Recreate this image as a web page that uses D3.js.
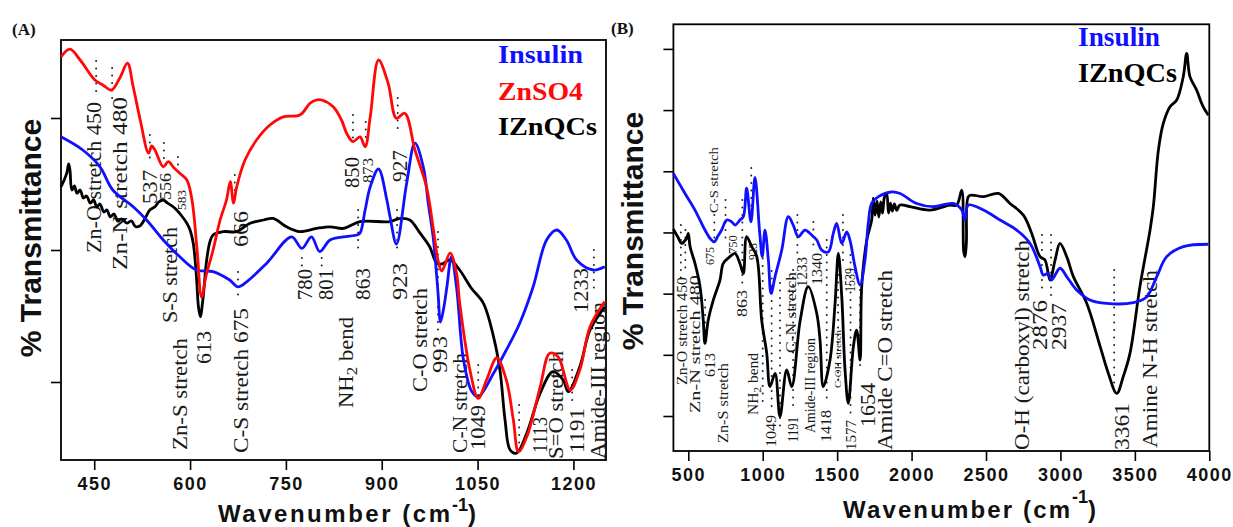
<!DOCTYPE html>
<html>
<head>
<meta charset="utf-8">
<script src="https://cdn.jsdelivr.net/npm/d3@7"></script>
<style>
  body { margin: 0; background: #fff; }
  svg { display: block; }
</style>
</head>
<body>
<svg id="chart" width="1233" height="527"></svg>
<script>
// ---- spectra, [wavenumber cm-1, transmittance (arb.)]
var insulinA = [
  [398,80.8],[432,77.5],[459,73.3],[479,67.5],[511,63.3],[532,60],[558,55],[584,50.8],[610,47.5],
  [636,47.1],[662,45],[675,43.3],[689,44.6],[720,49.2],[759,55.8],[775,52.9],[790,55.8],[803,52.1],
  [819,55],[840,55.8],[861,56.25],[866,56.7],[874,62.5],[882,68.3],[895,72.75],[908,65],[913,60.8],
  [923,54],[939,69.2],[952,79.2],[965,73.3],[973,64],[981,55],[988,42],[992,34.5],[997,38],
  [1002,43.3],[1009,50.8],[1017,43.3],[1028,25],[1041,17.1],[1051,15.8],[1075,21.7],[1095,27.5],
  [1116,34.2],[1137,43.3],[1158,55],[1174,57.5],[1189,55],[1205,50],[1231,47.5],[1249,48.3]
];
var znso4A = [
  [398,100.8],[412,102.7],[428,100],[451,95],[464,93.7],[477,92.5],[490,95.5],[502,99.2],[511,93.3],
  [522,85],[535,76.7],[540,78.5],[545,77.5],[558,73.3],[566,74.6],[575,73],[584,71.7],[595,70],
  [603,65],[611,52.5],[618,40.7],[625,46],[636,52.5],[647,60],[657,65],[663,69.6],[668,64.2],
  [673,68.3],[686,75],[704,80],[725,83.75],[746,85.8],[772,86.25],[788,89.2],[798,90],[806,90],
  [824,88.3],[837,85],[845,81.7],[855,79.6],[866,80.8],[874,78.3],[882,85.8],[895,100],[910,94.2],
  [923,85.4],[936,86.7],[952,77.5],[970,68.3],[981,57.5],[988,50],[994,47.25],[1007,51.7],
  [1017,46.75],[1022,39.25],[1038,22.5],[1051,15.4],[1064,20],[1080,25.5],[1095,20],[1106,10],
  [1114,2.1],[1127,5.8],[1148,18.3],[1163,26.7],[1176,25.8],[1195,17.5],[1210,22.5],[1226,33.3],
  [1249,39.6]
];
var iznqcsA = [
  [398,68.3],[403,70],[407,71.7],[410,74],[412,72.5],[415,67.5],[419,68.5],[423,66.7],[428,67.5],
  [433,65.5],[438,66],[444,64.2],[449,65],[454,63.3],[459,64],[465,62],[470,62.5],[475,60.8],
  [481,61.5],[487,59.7],[493,60.3],[501,59.2],[508,59.8],[515,58.3],[522,58.6],[530,60.5],
  [537,62.5],[545,63.3],[551,64.5],[558,65],[565,64.2],[572,63.5],[579,62.5],[587,61],[595,59.2],
  [600,57.5],[605,54.2],[610,45.8],[613,38.5],[616,35.8],[620,40],[626,50],[631,54.5],[636,56.25],
  [652,57.1],[673,57.1],[694,59.2],[715,60],[730,60.4],[751,58.3],[772,57.1],[798,57.9],[819,58.3],
  [840,57.9],[866,59.6],[913,59.6],[929,60.4],[944,60],[960,56.7],[975,53.3],[986,49.2],[994,49],
  [1007,50],[1022,47.5],[1040,43],[1059,39.2],[1075,30.8],[1085,22.5],[1093,10],[1101,2.5],
  [1111,1.7],[1127,6.7],[1148,16.7],[1168,22.1],[1184,20],[1192,17.1],[1210,23.3],[1226,32.5],
  [1249,38.3]
];
var insulinB = [
  [400,69.4],[478,64.4],[545,60.25],[612,55.25],[650,53],[675,52.3],[700,53.8],[724,55.25],
  [758,57.75],[792,57.3],[814,56.5],[847,57.75],[870,58.6],[892,65.7],[921,57.3],[948,68.4],
  [980,54.4],[997,48.6],[1015,55.25],[1038,47.75],[1056,39.4],[1083,43.6],[1128,50.25],
  [1172,58.6],[1205,56.5],[1239,53.6],[1284,55.25],[1329,54],[1363,52.75],[1396,50.25],
  [1441,49.8],[1474,54.4],[1497,56.9],[1531,51.9],[1564,54.8],[1586,52.75],[1620,46.1],
  [1654,41.5],[1687,47.75],[1709,56.9],[1732,61.9],[1777,63.6],[1867,64.8],[1923,64.4],
  [2034,61.9],[2146,61.1],[2280,61.9],[2337,60.25],[2359,57.75],[2381,61.5],[2482,60.25],
  [2594,57.75],[2706,55.25],[2796,51.9],[2863,46.1],[2885,44],[2919,44.4],[2941,42.75],
  [2997,45.7],[3042,43.6],[3109,40.25],[3198,37.75],[3311,36.9],[3490,37.1],[3580,38.6],
  [3647,43.6],[3714,48.6],[3826,51.1],[3994,51.7]
];
var iznqcsB = [
  [400,55.5],[430,53.5],[456,51.9],[475,52.5],[489,53.2],[500,54.4],[512,51.1],[545,46.9],
  [579,41.1],[600,33],[612,26.9],[634,32.75],[668,37.75],[713,42.75],[735,46.9],[780,48.6],
  [814,49.4],[847,46.9],[870,44.4],[892,53.6],[926,51.1],[960,48.6],[993,32.75],[1027,24.4],
  [1049,16.1],[1083,19.4],[1116,8.6],[1161,20.25],[1195,16.1],[1252,32.75],[1306,41.1],
  [1363,34.4],[1385,27.75],[1407,16.1],[1452,22.75],[1486,36.9],[1508,49.4],[1531,38.6],
  [1553,20.25],[1575,11.9],[1609,26.1],[1631,30.25],[1654,22.75],[1665,41.1],[1699,52.75],
  [1732,57.75],[1743,63.2],[1755,59],[1768,62.5],[1780,58.5],[1793,62.3],[1805,59.5],[1818,63.5],
  [1833,64.4],[1845,59.5],[1858,62],[1870,60],[1885,61.8],[1900,60.2],[1922,61.5],[1989,61.1],
  [2123,60.25],[2258,61.5],[2303,61.5],[2337,65.25],[2350,50],[2359,48.6],[2368,52],[2381,63.6],
  [2404,64],[2482,63.6],[2583,64.4],[2661,61.9],[2751,59],[2807,54.4],[2863,48.6],[2896,47.75],
  [2930,42.75],[2964,47.75],[2997,51.9],[3042,48.6],[3087,43.6],[3177,36.9],[3267,26.1],
  [3322,19.4],[3378,14.4],[3422,18.6],[3467,24.4],[3534,41.1],[3602,55.25],[3624,61.1],
  [3658,75.25],[3691,81.9],[3736,86.1],[3781,87.75],[3825,93.6],[3848,99.4],[3870,93.6],
  [3915,90.25],[3949,86.9],[3971,85.25],[3994,84]
];

var xTicksA = [450, 600, 750, 900, 1050, 1200];
var xTicksB = [500, 1000, 1500, 2000, 2500, 3000, 3500, 4000];
var yTicksA = [19.5, 52.5, 85.5];
var yTicksB = [8.75, 24.05, 39.35, 54.65, 69.95, 85.25, 100.55];

var legendA = ["Insulin", "ZnSO4", "IZnQCs"];
var legendB = ["Insulin", "IZnQCs"];

// band marks: [wavenumber, from, to]
var dotsA = [[453,92,99.75],[478,90,98],[537,73.75,81.25],[559,74.25,79.25],[581,72,75.75],
  [670,64.25,71.25],[675,41.25,47],[775,47,50.5],[806,47,50.5],[855,78.75,86.25],[863,51.75,62.5],
  [875,78.75,84.5],[925,82.5,90.5],[924,51.25,62.5],[988,31.25,57],[1051,15,23.75],[1115,1.25,13.75],
  [1198,13.75,22.5],[1232,42.5,52.5]];
var dotsB = [[450,42.75,56.5],[480,44,55.25],[613,26.5,37.75],[675,51.5,59],[750,52.75,62.75],
  [863,41.5,62.75],[923,56.5,70.75],[1000,12,50],[1060,10.25,45],[1116,5.25,42],[1204,10.25,45.25],
  [1233,49,59],[1340,50.25,57.25],[1430,12.75,52.75],[1506,16,44],[1539,46.5,59],[1590,9,49],
  [1654,20.25,40.25],[2876,39,54],[2937,37.75,54],[3361,14,45.25]];

// band labels: [text, wavenumber, level of text start, length, font size]
var labelsA = [
  ["Zn-O stretch  450",450,51.75,151],["Zn-N stretch  480",490,47.5,173],["537",537,64,34],
  ["556",562,65,27,16],["583",587,62.5,20,13],["S-S stretch",569,34.25,96],["Zn-S stretch",584,2.5,112],
  ["613",622,24,33],["C-S stretch  675",680,1.75,145],["666",680,53.25,36],["780",780,40,31],
  ["801",813.5,40,31],["863",870,40,32],["NH_2_ bend",844,13,91],["850",854,68,31],["873",878,69.25,25,15],
  ["927",928,69.5,32],["923",929,40,37],["C-O stretch",960,17,104],["993",991,21.75,37],
  ["C-N stretch",1022,1.75,100],["1049",1051,2.5,45],["1113",1148,1.75,36],["S=O stretch",1173,0.25,108],
  ["1191",1205,1.75,45],["Amide-III region",1238,0.25,157],["1233",1212,36.75,45]
];
var labelsB = [
  ["Zn-O stretch  450",456,16.5,108,14],["Zn-N stretch 480",547,9.5,138,14],["613",646,18.5,24,14],
  ["Zn-S stretch",735,2,80,14],["675",639,46.5,18,13],["C-S stretch",668,59.5,66,13],
  ["750",797,49.25,19,13],["863",859,33.5,27,14],["923",931,47.75,17,13],["NH_2_ bend",937,9,62,14],
  ["1049",1054,1,32,14],["C-N stretch",1189,24.5,81,14],["1191",1205,2.25,25,14],["1233",1267,41,30,14],
  ["1340",1363,41.5,32,14],["Amide-III region",1318,4.5,95,14],["1418",1424,2.25,32,14],
  ["C-OH stretch",1508,15.75,58,9],["1539",1586,39.75,24,14],["1577",1592,0.25,30,14],
  ["1654",1704,6,44,22],["Amide C=O stretch",1815,0.25,180,22],["O-H (carboxyl) stretch",2740,0.25,210,21],
  ["2876",2863,25.25,50,21],["2937",2986,25.25,47,21],["3361",3412,0.25,47,21],
  ["Amine N-H stretch",3602,0.75,178,21]
];

var colours = { "Insulin": "#1010ff", "ZnSO4": "#ff0808", "IZnQCs": "#000000" };
var serif = "'Liberation Serif', 'Times New Roman', serif";
var sans = "'Liberation Sans', Arial, sans-serif";

var svg = d3.select("#chart");

var panels = [
  {
    tag: "(A)", tagX: 12, tagY: 35,
    left: 61, right: 606, top: 40, bottom: 460,
    xDomain: [398, 1251], yDomain: [0, 105],
    xTicks: xTicksA, yTicks: yTicksA,
    series: [["IZnQCs", iznqcsA], ["Insulin", insulinA], ["ZnSO4", znso4A]],
    legend: legendA, legendX: 498, legendY: [63, 100, 135], legendLen: [85, 85, 99], legendSize: 26,
    dots: dotsA, labels: labelsA, labelSize: 20,
    yTitle: [41, 238],
    xTitle: { x: 218, y: 522, len: 232, supY: 511 }
  },
  {
    tag: "(B)", tagX: 611, tagY: 34,
    left: 673.4, right: 1209.3, top: 24.3, bottom: 451,
    xDomain: [400, 4000], yDomain: [0, 106.7],
    xTicks: xTicksB, yTicks: yTicksB,
    series: [["IZnQCs", iznqcsB], ["Insulin", insulinB]],
    legend: legendB, legendX: 1078, legendY: [46, 82], legendLen: [82, 99], legendSize: 28,
    dots: dotsB, labels: labelsB, labelSize: 14,
    yTitle: [643, 231],
    xTitle: { x: 843, y: 518, len: 227, supY: 503 }
  }
];

panels.forEach(drawPanel);

function drawPanel(p) {
  var x = d3.scaleLinear().domain(p.xDomain).range([p.left, p.right]);
  var y = d3.scaleLinear().domain(p.yDomain).range([p.bottom, p.top]);
  var g = svg.append("g");

  g.append("g")
    .attr("transform", "translate(0," + p.bottom + ")")
    .call(d3.axisBottom(x).tickValues(p.xTicks).tickSize(10).tickSizeOuter(0).tickPadding(7).tickFormat(d3.format("d")))
    .call(function (a) {
      a.select(".domain").remove();
      a.selectAll("line").attr("stroke", "#000").attr("stroke-width", 1.6);
      a.selectAll("text")
        .attr("fill", "#111")
        .style("font-family", sans).style("font-weight", "bold")
        .style("font-size", "18px").style("letter-spacing", "1.5px");
    });

  g.append("g")
    .attr("transform", "translate(" + p.left + ",0)")
    .call(d3.axisLeft(y).tickValues(p.yTicks).tickSize(10).tickSizeOuter(0).tickFormat(""))
    .call(function (a) {
      a.select(".domain").remove();
      a.selectAll("line").attr("stroke", "#000").attr("stroke-width", 1.6);
    });

  g.append("rect")
    .attr("x", p.left).attr("y", p.top)
    .attr("width", p.right - p.left).attr("height", p.bottom - p.top)
    .attr("fill", "none").attr("stroke", "#000").attr("stroke-width", 1.8);

  // dotted band markers
  g.selectAll(".dots")
    .data(p.dots)
    .enter().append("line")
      .attr("x1", function (d) { return x(d[0]); })
      .attr("x2", function (d) { return x(d[0]); })
      .attr("y1", function (d) { return y(d[2]); })
      .attr("y2", function (d) { return y(d[1]); })
      .attr("stroke", "#222").attr("stroke-width", 2)
      .attr("stroke-linecap", "round").attr("stroke-dasharray", "0,7.5");

  // band labels
  g.selectAll(".band")
    .data(p.labels)
    .enter().append("text")
      .attr("transform", function (d) { return "translate(" + x(d[1]) + "," + y(d[2]) + ") rotate(-90)"; })
      .attr("dy", "0.35em")
      .attr("fill", "#1a1a1a")
      .style("font-family", serif)
      .style("font-size", function (d) { return (d[4] || p.labelSize) + "px"; })
      .attr("textLength", function (d) { return d[3]; })
      .attr("lengthAdjust", "spacingAndGlyphs")
      .each(function (d) {
        var parts = d[0].split("_");
        var t = d3.select(this);
        if (parts.length === 1) { t.text(d[0]); return; }
        t.append("tspan").text(parts[0]);
        t.append("tspan").attr("dy", "0.3em").style("font-size", "0.75em").text(parts[1]);
        t.append("tspan").attr("dy", "-0.22em").text(parts[2]);
      });

  // spectra
  var line = d3.line()
    .x(function (d) { return x(d[0]); })
    .y(function (d) { return y(d[1]); })
    .curve(d3.curveCatmullRom.alpha(0.5));

  p.series.forEach(function (s) {
    g.append("path")
      .datum(s[1])
      .attr("d", line)
      .attr("fill", "none")
      .attr("stroke", colours[s[0]])
      .attr("stroke-width", 2.8)
      .attr("stroke-linejoin", "round");
  });

  // legend
  p.legend.forEach(function (name, i) {
    g.append("text")
      .attr("x", p.legendX).attr("y", p.legendY[i])
      .attr("fill", colours[name])
      .attr("textLength", p.legendLen[i]).attr("lengthAdjust", "spacingAndGlyphs")
      .style("font-family", serif).style("font-weight", "bold")
      .style("font-size", p.legendSize + "px")
      .text(name);
  });

  // titles
  g.append("text")
    .attr("transform", "translate(" + p.yTitle[0] + "," + p.yTitle[1] + ") rotate(-90)")
    .attr("text-anchor", "middle")
    .attr("fill", "#111")
    .style("font-family", sans).style("font-weight", "bold").style("font-size", "30px")
    .text("% Transmittance");

  var t = p.xTitle;
  var xtStyle = function (s, size) {
    return s.attr("fill", "#111").style("font-family", sans)
      .style("font-weight", "bold").style("font-size", size + "px");
  };
  xtStyle(g.append("text"), 24)
    .attr("x", t.x).attr("y", t.y)
    .attr("textLength", t.len).attr("lengthAdjust", "spacing")
    .text("Wavenumber (cm");
  xtStyle(g.append("text"), 18)
    .attr("x", t.x + t.len + 2).attr("y", t.supY)
    .text("-1");
  xtStyle(g.append("text"), 24)
    .attr("x", t.x + t.len + 18).attr("y", t.y)
    .text(")");

  g.append("text")
    .attr("x", p.tagX).attr("y", p.tagY)
    .attr("fill", "#111")
    .style("font-family", serif).style("font-weight", "bold").style("font-size", "17px")
    .text(p.tag);
}
</script>
</body>
</html>
